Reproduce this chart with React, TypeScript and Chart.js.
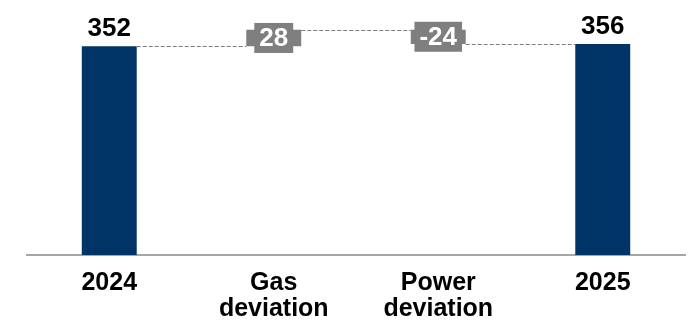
import React, { useEffect, useRef } from "react";
import { Chart, registerables } from "chart.js";

Chart.register(...registerables);

const categories: (string | string[])[] = ["2024", ["Gas", "deviation"], ["Power", "deviation"], "2025"];
const values: number[] = [352, 28, -24, 356];
const isTotal: boolean[] = [true, false, false, true];
const deltaLabels: string[] = ["352", "28", "-24", "356"];

const NAVY = "#003366";
const GREY = "#7f7f7f";
const FONT = "'Liberation Sans', Arial, sans-serif";

function buildRanges(): [number, number][] {
  const out: [number, number][] = [];
  let run = 0;
  values.forEach((v, i) => {
    if (isTotal[i]) {
      out.push([0, v]);
      run = v;
    } else {
      out.push([run, run + v]);
      run = run + v;
    }
  });
  return out;
}

const labelPlugin = {
  id: "wfLabels",
  afterDatasetsDraw(chart: any) {
    const ctx = chart.ctx;
    const meta = chart.getDatasetMeta(0);
    const yScale = chart.scales.y;
    const ranges = buildRanges();
    ctx.save();
    // connectors
    ctx.strokeStyle = "#7f7f7f";
    ctx.lineWidth = 1;
    ctx.setLineDash([4, 2]);
    for (let i = 0; i < meta.data.length - 1; i++) {
      const a = meta.data[i];
      const b = meta.data[i + 1];
      const level = ranges[i][1];
      const y = Math.round(yScale.getPixelForValue(level)) + 0.5;
      ctx.beginPath();
      ctx.moveTo(a.x + a.width / 2, y);
      ctx.lineTo(b.x - b.width / 2, y);
      ctx.stroke();
    }
    ctx.setLineDash([]);
    meta.data.forEach((bar: any, i: number) => {
      const top = Math.min(bar.y, bar.base);
      const bottom = Math.max(bar.y, bar.base);
      if (isTotal[i]) {
        ctx.font = `bold 26px ${FONT}`;
        ctx.fillStyle = "#000000";
        ctx.textAlign = "center";
        ctx.textBaseline = "alphabetic";
        ctx.fillText(deltaLabels[i], bar.x, top - 10);
      } else {
        ctx.font = `bold 26px ${FONT}`;
        const w = ctx.measureText(deltaLabels[i]).width;
        const cy = (top + bottom) / 2;
        const bw = w + 10;
        const bh = 30;
        ctx.fillStyle = GREY;
        ctx.fillRect(bar.x - bw / 2, cy - bh / 2, bw, bh);
        ctx.fillStyle = "#ffffff";
        ctx.textAlign = "center";
        ctx.textBaseline = "middle";
        ctx.fillText(deltaLabels[i], bar.x, cy + 1);
      }
    });
    ctx.restore();
  },
};

export default function App() {
  const ref = useRef<HTMLCanvasElement | null>(null);
  useEffect(() => {
    if (!ref.current) return;
    const chart = new Chart(ref.current, {
      type: "bar",
      data: {
        labels: categories,
        datasets: [
          {
            data: buildRanges() as any,
            backgroundColor: isTotal.map((t) => (t ? NAVY : GREY)),
            borderWidth: 0,
            borderSkipped: false,
            barPercentage: 1,
            categoryPercentage: 0.334,
          },
        ],
      },
      options: {
        animation: false,
        responsive: false,
        maintainAspectRatio: false,
        layout: { padding: { left: 27, right: 10, top: 0, bottom: -4 } },
        plugins: { legend: { display: false }, tooltip: { enabled: false } },
        scales: {
          x: {
            grid: { display: false },
            border: { display: true, color: "#a6a6a6", width: 2 },
            ticks: {
              color: "#000000",
              font: { family: FONT, size: 25, weight: "bold", lineHeight: 1.04 },
              padding: 7,
              maxRotation: 0,
              autoSkip: false,
            },
          },
          y: {
            display: false,
            min: 0,
            max: 430,
          },
        },
      },
      plugins: [labelPlugin],
    });
    return () => chart.destroy();
  }, []);
  return (
    <div style={{ position: "fixed", left: 0, top: 0, width: 695, height: 325, background: "#fff" }}>
      <canvas ref={ref} width={695} height={325} style={{ width: 695, height: 325, display: "block" }} />
    </div>
  );
}
